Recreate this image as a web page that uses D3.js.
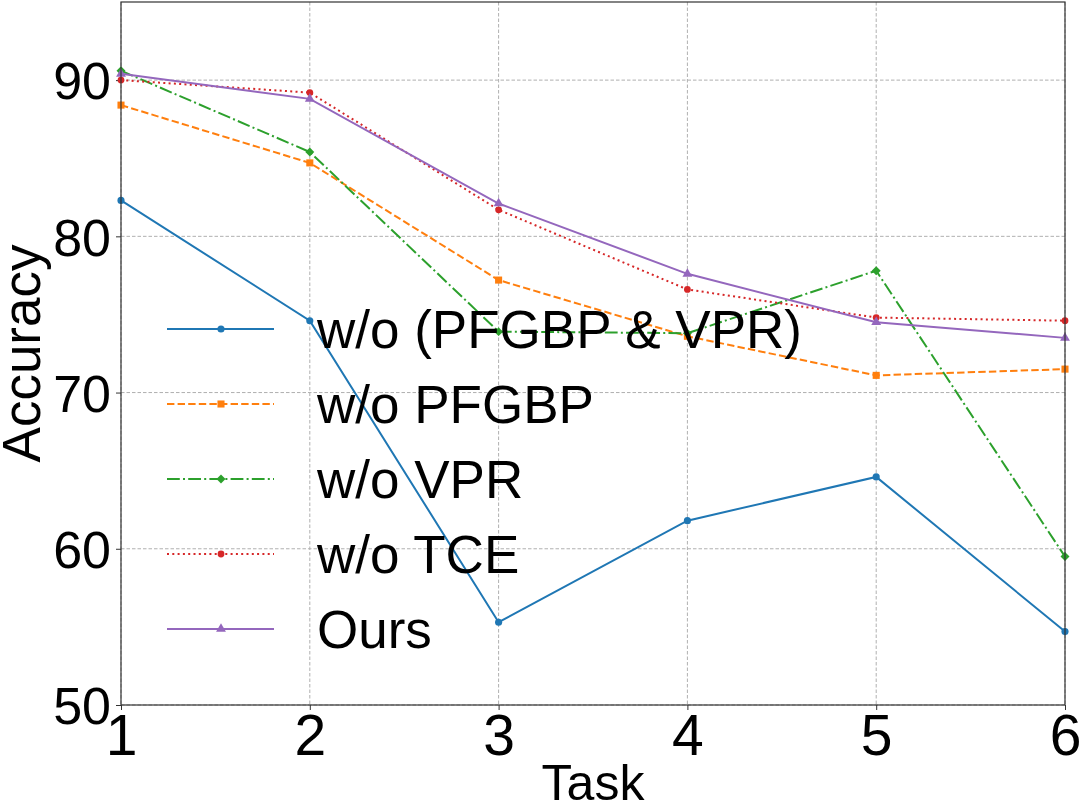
<!DOCTYPE html>
<html>
<head>
<meta charset="utf-8">
<script src="https://cdn.jsdelivr.net/npm/d3@7"></script>
<style>
  html, body { margin: 0; padding: 0; background: #fff; }
  svg { display: block; font-family: "Liberation Sans", Arial, sans-serif; }
</style>
</head>
<body>
<svg id="chart" width="1079" height="806"></svg>
<script>
const tasks = [1, 2, 3, 4, 5, 6];
const seriesNames = ["w/o (PFGBP & VPR)", "w/o PFGBP", "w/o VPR", "w/o TCE", "Ours"];
const woBoth = [82.3, 74.6, 55.3, 61.8, 64.6, 54.7];
const woPFGBP = [88.4, 84.7, 77.2, 73.6, 71.1, 71.5];
const woVPR = [90.6, 85.4, 73.9, 73.8, 77.8, 59.5];
const woTCE = [90.0, 89.2, 81.7, 76.6, 74.8, 74.6];
const ours = [90.4, 88.8, 82.1, 77.6, 74.5, 73.5];
const yTicks = [50, 60, 70, 80, 90];
const xTicks = [1, 2, 3, 4, 5, 6];

const seriesValues = [woBoth, woPFGBP, woVPR, woTCE, ours];
const colors = ["#1f77b4", "#ff7f0e", "#2ca02c", "#d62728", "#9467bd"];
const dashes = [null, "7.4,3.2", "12.8,3.2,2,3.2", "2,3.3", null];
const symbols = [d3.symbolCircle, d3.symbolSquare, d3.symbolSquare, d3.symbolCircle, d3.symbolTriangle];
const symRot = [0, 0, 45, 0, 0];
const symSizes = [40, 50, 40, 36, 42];

const svg = d3.select("#chart");
const L = 121, R = 1065, T = 2, B = 705;
const x = d3.scaleLinear().domain([1, 6]).range([L, R]);
const y = d3.scaleLinear().domain([50, 95]).range([B, T]);

// grid
const grid = svg.append("g");
grid.selectAll("line.gx").data(xTicks).enter().append("line")
  .attr("x1", d => x(d)).attr("x2", d => x(d)).attr("y1", T).attr("y2", B)
  .attr("stroke", "#b0b0b0").attr("stroke-width", 1).attr("stroke-dasharray", "3.5,2");
grid.selectAll("line.gy").data(yTicks).enter().append("line")
  .attr("x1", L).attr("x2", R).attr("y1", d => y(d)).attr("y2", d => y(d))
  .attr("stroke", "#b0b0b0").attr("stroke-width", 1).attr("stroke-dasharray", "3.5,2");

// axes
const xAxis = d3.axisBottom(x).tickValues(xTicks).tickFormat(d3.format("d")).tickSizeInner(5).tickSizeOuter(0).tickPadding(4);
const yAxis = d3.axisLeft(y).tickValues(yTicks).tickFormat(d3.format("d")).tickSizeInner(5).tickSizeOuter(0).tickPadding(5);
const gx = svg.append("g").attr("transform", `translate(0,${B})`).call(xAxis);
const gy = svg.append("g").attr("transform", `translate(${L},0)`).call(yAxis);
gx.select(".domain").remove(); gy.select(".domain").remove();
gx.selectAll("text").attr("font-size", 57).attr("fill", "#000").attr("font-family", "Liberation Sans, Arial, sans-serif").attr("dy", "0.72em");
gy.selectAll("text").attr("font-size", 52).attr("fill", "#000").attr("font-family", "Liberation Sans, Arial, sans-serif").attr("dy", "0.36em");
gx.selectAll(".tick line").attr("stroke", "#333");
gy.selectAll(".tick line").attr("stroke", "#333");

// lines
const line = d3.line().x((d, i) => x(tasks[i])).y(d => y(d));
seriesValues.forEach((vals, s) => {
  const g = svg.append("g");
  g.append("path").datum(vals).attr("d", line).attr("fill", "none")
    .attr("stroke", colors[s]).attr("stroke-width", 2)
    .attr("stroke-dasharray", dashes[s]);
  g.selectAll("path.m").data(vals).enter().append("path")
    .attr("d", d3.symbol().type(symbols[s]).size(symSizes[s]))
    .attr("transform", (d, i) => `translate(${x(tasks[i])},${y(d)}) rotate(${symRot[s]})`)
    .attr("fill", colors[s]);
});

// frame
svg.append("rect").attr("x", L).attr("y", T).attr("width", R - L).attr("height", B - T)
  .attr("fill", "none").attr("stroke", "#333").attr("stroke-width", 1.2);

// legend
const legY0 = 329, legStep = 75;
const leg = svg.append("g");
seriesNames.forEach((name, s) => {
  const cy = legY0 + s * legStep;
  leg.append("line").attr("x1", 167).attr("x2", 274).attr("y1", cy).attr("y2", cy)
    .attr("stroke", colors[s]).attr("stroke-width", 2).attr("stroke-dasharray", dashes[s]);
  leg.append("path").attr("d", d3.symbol().type(symbols[s]).size(symSizes[s]))
    .attr("transform", `translate(221,${cy}) rotate(${symRot[s]})`).attr("fill", colors[s]);
  leg.append("text").attr("x", 317).attr("y", cy + 19).attr("font-size", 53).attr("fill", "#000").text(name);
});

// axis labels
svg.append("text").attr("x", (L + R) / 2).attr("y", 800).attr("text-anchor", "middle")
  .attr("font-size", 50).attr("fill", "#000").text("Task");
svg.append("text").attr("transform", `translate(40,${(T + B) / 2}) rotate(-90)`).attr("text-anchor", "middle")
  .attr("font-size", 53).attr("fill", "#000").text("Accuracy");
</script>
</body>
</html>
